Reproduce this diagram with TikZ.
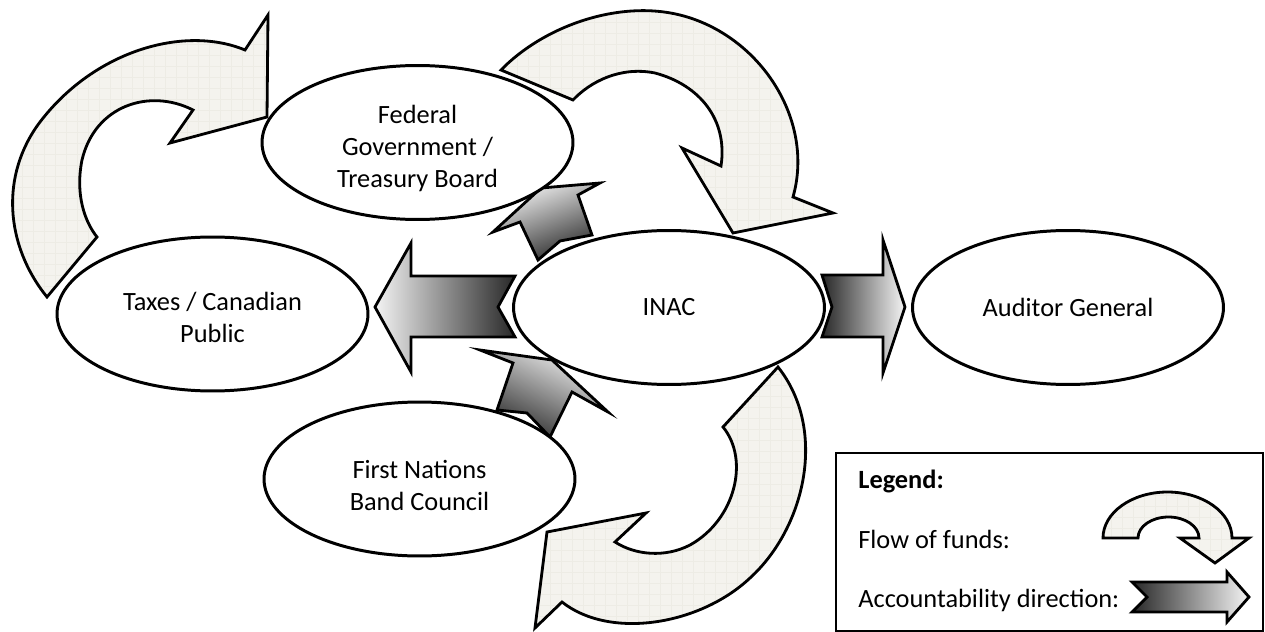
\documentclass[tikz,border=0pt]{standalone}
\usepackage{fontspec}
\setmainfont{Carlito}
\usetikzlibrary{shapes.geometric}
\definecolor{fundfill}{RGB}{244,243,238}
\definecolor{fundgrid}{RGB}{237,236,229}
\definecolor{accdark}{RGB}{40,40,40}
\definecolor{acclight}{RGB}{244,244,244}
\newcommand\nudge[1]{\vphantom{X}\\[#1]}
\begin{document}
\begin{tikzpicture}[x=0.02cm,y=-0.02cm,
	party/.style={ellipse,draw,line width=1.7pt,fill=white,minimum width=6.22cm,minimum height=3.08cm,align=center,inner sep=0pt,font=\fontsize{15}{18.2}\selectfont},
	funds/.style={draw,line width=1.6pt,fill=fundfill,path picture={\draw[fundgrid,line width=0.3pt,step=0.22cm] (path picture bounding box.south west) grid (path picture bounding box.north east);}},
	account/.style={draw,line width=1.6pt,top color=acclight,bottom color=accdark,shading angle=#1},
	legtext/.style={anchor=base west,inner sep=0pt,font=\fontsize{15}{18.2}\selectfont}]
		\useasboundingbox (0,0) rectangle (1265,632);
		
		% flow of funds
		\path[funds] (47,297) .. controls (5,245) and (0,175) .. (40,122) .. controls (95,50) and (185,25) .. (245,50) -- (268,15) -- (267,117) -- (170,143) -- (193,110) .. controls (150,88) and (95,105) .. (82,160) .. controls (75,195) and (85,222) .. (97,237) -- cycle;
		\path[funds] (501,70) .. controls (545,25) and (620,0) .. (680,15) .. controls (760,35) and (815,120) .. (793,197) -- (833,213) -- (733,233) -- (682,148) -- (721,166) .. controls (728,120) and (700,85) .. (655,73) .. controls (620,66) and (590,82) .. (573,100) -- cycle;
		\path[funds] (778,367) -- (723,427) .. controls (750,460) and (735,520) .. (690,545) .. controls (665,558) and (635,555) .. (615,542) -- (646,513) -- (547,532) -- (535,628) -- (562,602) .. controls (610,640) and (700,625) .. (750,578) .. controls (805,528) and (828,430) .. (778,367) -- cycle;
		
		% accountability
		\path[account=21] (493,232) -- (541,188) -- (600,183) -- (578,195) -- (592,235) -- (560,241) -- (538,260) -- (520,222) -- cycle;
		\path[account=90] (375,307) -- (411,243) -- (411,276) -- (515,276) -- (498,307) -- (515,337) -- (411,337) -- (411,372) -- cycle;
		\path[account=-25] (480,350) -- (552,360) -- (608,412) -- (572,392) -- (550,437) -- (527,413) -- (497,410) -- (513,363) -- cycle;
		\path[account=-90] (822,275) -- (883,275) -- (883,240) -- (905,307) -- (883,373) -- (883,337) -- (822,337) -- (832,307) -- cycle;
		
		\node[party] (fed) at (417.5,142.5) {\nudge{-10.4pt}Federal\\Government /\\Treasury Board};
		\node[party] (tax) at (212.5,314) {\nudge{-13.8pt}Taxes / Canadian\\Public};
		\node[party] (inac) at (669,307.5) {INAC};
		\node[party] (aud) at (1068,307.5) {Auditor General};
		\node[party] (fn) at (419.5,479) {\nudge{-10.4pt}First Nations\\Band Council};
		
		% legend
		\node[draw,line width=1.4pt,anchor=north west,minimum width=8.54cm,minimum height=3.56cm,inner sep=0pt] (legend) at (835,452) {};
		\node[legtext] (legtitle) at (858,488) {\textbf{Legend:}};
		\node[legtext] (legfunds) at (858,548) {Flow of funds:};
		\node[legtext] (legacc) at (858,607) {Accountability direction:};
		\path[funds] (1103,538) arc[start angle=180,end angle=360,x radius=64.5,y radius=46] -- (1249,538) -- (1215,563) -- (1180,538) -- (1199,538) arc[start angle=0,end angle=-180,x radius=30.5,y radius=21] -- cycle;
		\path[account=-90] (1132,582) -- (1227,582) -- (1227,572) -- (1249,597) -- (1227,622) -- (1227,612) -- (1132,612) -- (1147,597) -- cycle;
	\end{tikzpicture}
\end{document}
